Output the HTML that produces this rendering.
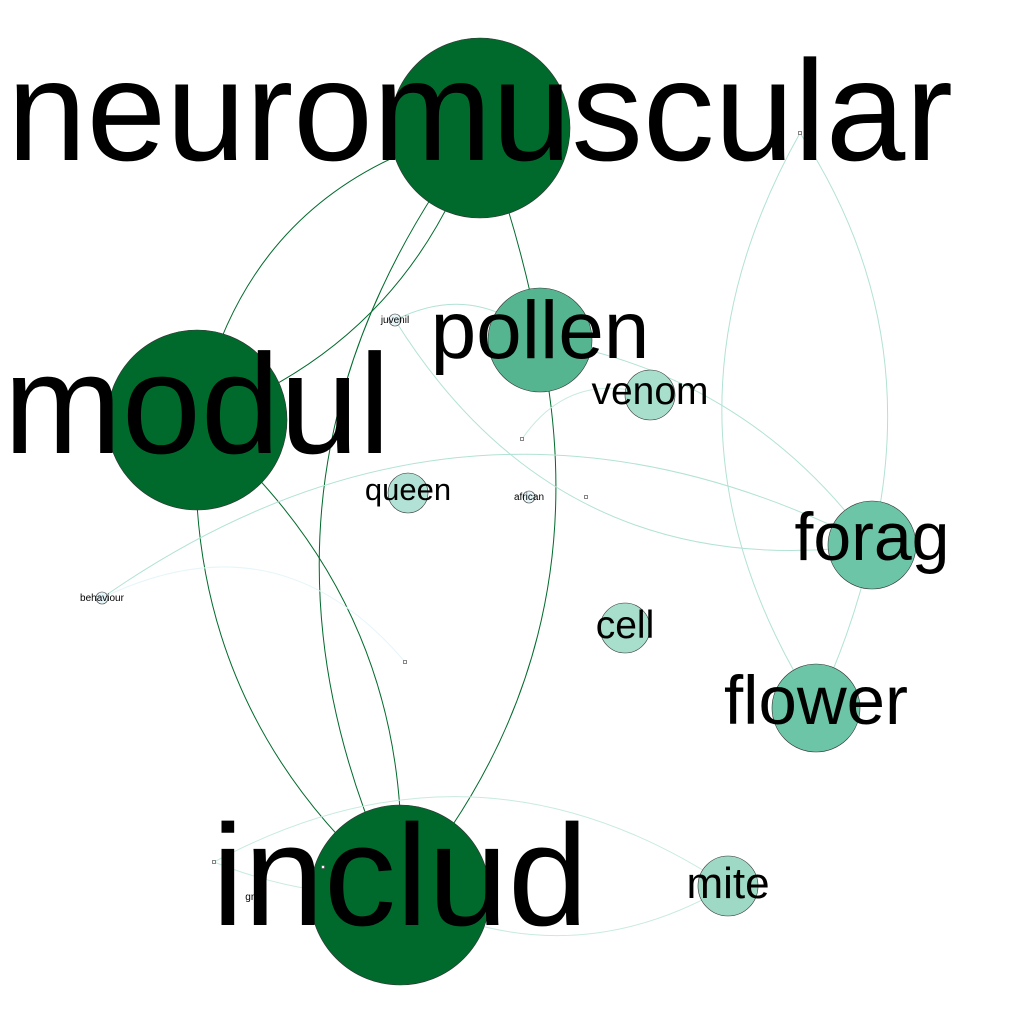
<!DOCTYPE html>
<html><head><meta charset="utf-8">
<style>
html,body{margin:0;padding:0;background:#fff;}
svg{display:block;}
text{font-family:"Liberation Sans",sans-serif;fill:#000;}
</style></head>
<body>
<svg id="net" width="1024" height="1024" viewBox="0 0 1024 1024" xmlns="http://www.w3.org/2000/svg">
<g id="edges"></g>
<g id="nodes"></g>
<g id="labels"></g>
</svg>
<script>
// node data
const nodeNames = ["neuromuscular","modul","includ","pollen","forag","flower","mite","venom","cell","queen","juvenil","african","behaviour","gmo","t1","t2","t3","t4","t5","t6"];
const nodeX =     [480,197,400,540,872,816,728,650,625,408,395,529,102,255,522,405,214,586,800,323];
const nodeY =     [128,420,895,340,545,708,886,395,628,493,320,497,598,897,439,662,862,497,133,867];
const nodeR =     [90,90,90,52,44,44,30,25,25,20,6,6,6,0,2,2,2,1,1,1];
const nodeColor = ["#006a2c","#006a2c","#006a2c","#55b591","#6cc5a7","#6cc5a7","#9dd9c4","#a7dfcc","#a7dfcc","#b2e2d5","#e5f5f9","#e5f5f9","#e5f5f9","#fff","#fff","#fff","#fff","#fff","#fff","#fff"];
const labelSize = [143,142,144,82,68,69,44,39,39,31,10,10,10,10,0,0,0,0,0,0];
const labelDy =   [32,33,30,18,15,16,12,9,10,7,3,3,3,3,0,0,0,0,0,0];
// edge data: source, target, bend, colour
const edgeSrc =  ["neuromuscular","neuromuscular","neuromuscular","neuromuscular","pollen","modul","modul","t5","t5","forag","juvenil","pollen","juvenil","behaviour","behaviour","venom","t3","includ","t3"];
const edgeTgt =  ["modul","modul","includ","pollen","includ","includ","includ","flower","forag","flower","forag","forag","pollen","forag","t2","t1","mite","mite","includ"];
const edgeBend = [65,-50,118,-5,-70,65,-65,86,-45,-5,85,-40,-25,-116,-60,25,-77,45,10];
const edgeColor= ["#006a2c","#006a2c","#006a2c","#006a2c","#006a2c","#006a2c","#006a2c","#b2e2d5","#b2e2d5","#b2e2d5","#b2e2d5","#b2e2d5","#b2e2d5","#b2e2d5","#e5f5f9","#c7eadf","#c7eadf","#c7eadf","#c7eadf"];

const NS="http://www.w3.org/2000/svg";
const gE=document.getElementById('edges'),gN=document.getElementById('nodes'),gL=document.getElementById('labels');
function idx(n){return nodeNames.indexOf(n);}
for(let i=0;i<edgeSrc.length;i++){
  const a=idx(edgeSrc[i]),b=idx(edgeTgt[i]);
  const x1=nodeX[a],y1=nodeY[a],x2=nodeX[b],y2=nodeY[b];
  const dx=x2-x1,dy=y2-y1,L=Math.hypot(dx,dy);
  const px=-dy/L,py=dx/L;
  const cx=(x1+x2)/2+px*edgeBend[i]*2,cy=(y1+y2)/2+py*edgeBend[i]*2;
  const p=document.createElementNS(NS,'path');
  p.setAttribute('d',`M${x1},${y1} Q${cx},${cy} ${x2},${y2}`);
  p.setAttribute('fill','none');p.setAttribute('stroke',edgeColor[i]);p.setAttribute('stroke-width','1');
  
  
  gE.appendChild(p);
}
for(let i=0;i<nodeNames.length;i++){
  if(nodeNames[i]==='gmo') {} else if(nodeR[i]<=2){
    const s=document.createElementNS(NS,'rect');
    s.setAttribute('x',nodeX[i]-1.5);s.setAttribute('y',nodeY[i]-1.5);s.setAttribute('width',3);s.setAttribute('height',3);
    s.setAttribute('fill','#fff');s.setAttribute('stroke','#555');s.setAttribute('stroke-width','0.7');
    
    
    gN.appendChild(s);
  } else {
    const c=document.createElementNS(NS,'circle');
    c.setAttribute('cx',nodeX[i]);c.setAttribute('cy',nodeY[i]);c.setAttribute('r',nodeR[i]);
    c.setAttribute('fill',nodeColor[i]);c.setAttribute('stroke','#333');c.setAttribute('stroke-width','0.6');
    
    
    gN.appendChild(c);
  }
  if(labelSize[i]>0){
    const t=document.createElementNS(NS,'text');
    t.setAttribute('x',nodeX[i]);t.setAttribute('y',nodeY[i]+labelDy[i]);
    t.setAttribute('text-anchor','middle');t.setAttribute('font-size',labelSize[i]);
    t.textContent=nodeNames[i];
    
    
    gL.appendChild(t);
  }
}
</script>
</body></html>
